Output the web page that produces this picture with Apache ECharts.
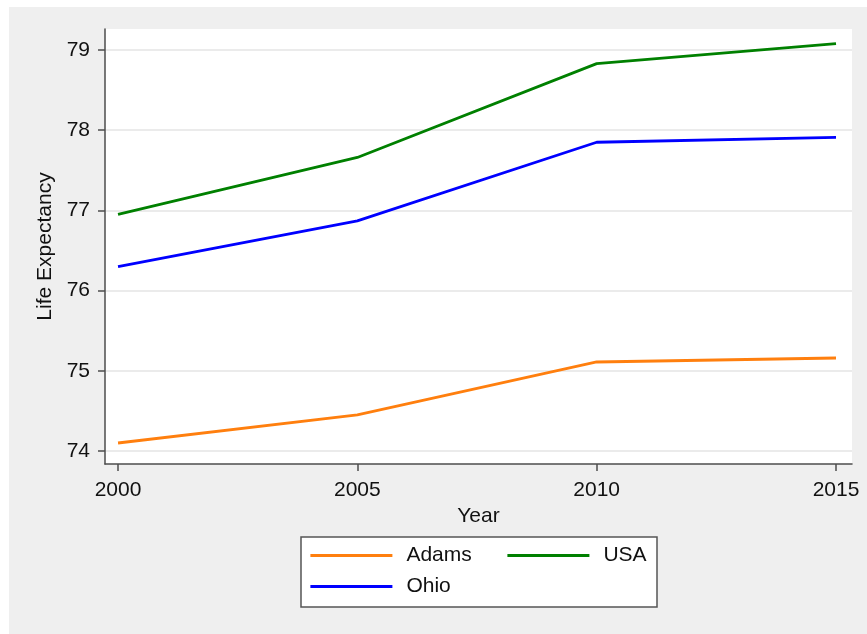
<!DOCTYPE html>
<html>
<head>
<meta charset="utf-8">
<script src="https://cdn.jsdelivr.net/npm/echarts@6/dist/echarts.min.js"></script>
<style>
html,body{margin:0;padding:0;background:#fff;}
#main{width:867px;height:634px;}
</style>
</head>
<body>
<div id="main"></div>
<script>
const years = [2000, 2005, 2010, 2015];
const adams = [74.10, 74.45, 75.11, 75.16];
const usa = [76.95, 77.66, 78.83, 79.08];
const ohio = [76.30, 76.87, 77.85, 77.91];
const yTicks = [74, 75, 76, 77, 78, 79];
const xTicks = [2000, 2005, 2010, 2015];

const pairs = vals => years.map((y, i) => [y, vals[i]]);
const font = '"Liberation Sans", Arial, sans-serif';
const axisColor = '#4d4d4d';
const legendCommon = {
  orient: 'vertical', top: 545, z: 10,
  itemWidth: 82, itemHeight: 21, itemGap: 10, padding: 0,
  itemStyle: {opacity: 0},
  lineStyle: {width: 2.8},
  textStyle: {fontFamily: font, fontSize: 21, color: '#111', padding: [0, 0, 0, 9]}
};

const chart = echarts.init(document.getElementById('main'), null, {renderer: 'canvas'});
chart.setOption({
  animation: false,
  backgroundColor: 'transparent',
  graphic: [
    {type: 'rect', z: -10, silent: true, shape: {x: 9, y: 7, width: 858, height: 627}, style: {fill: '#efefef'}},
    {type: 'rect', z: 5, silent: true, shape: {x: 301, y: 537, width: 356, height: 70}, style: {fill: '#fff', stroke: '#555', lineWidth: 1.5}}
  ],
  grid: {left: 105, right: 15, top: 29, bottom: 170, show: true, backgroundColor: '#fff', borderWidth: 0},
  xAxis: {
    type: 'value', min: 1999.728, max: 2015.334,
    name: 'Year', nameLocation: 'middle', nameGap: 36,
    nameTextStyle: {fontFamily: font, fontSize: 21, color: '#111'},
    axisLine: {show: true, lineStyle: {color: axisColor, width: 1.5}},
    axisTick: {show: true, length: 7, customValues: xTicks, lineStyle: {color: axisColor, width: 1.5}},
    axisLabel: {customValues: xTicks, margin: 16, fontFamily: font, fontSize: 21, color: '#111',
      formatter: v => String(Math.round(v))},
    splitLine: {show: false}
  },
  yAxis: {
    type: 'value', min: 73.838, max: 79.262,
    name: 'Life Expectancy', nameLocation: 'middle', nameGap: 44,
    nameTextStyle: {fontFamily: font, fontSize: 21, color: '#111'},
    axisLine: {show: true, lineStyle: {color: axisColor, width: 1.5}},
    axisTick: {show: true, length: 7, customValues: yTicks, lineStyle: {color: axisColor, width: 1.5}},
    axisLabel: {customValues: yTicks, margin: 15, fontFamily: font, fontSize: 21, color: '#111',
      formatter: v => String(Math.round(v))},
    splitLine: {show: true, lineStyle: {color: '#ebebeb', width: 2}}
  },
  legend: [
    Object.assign({data: ['Adams', 'Ohio'], left: 309}, legendCommon),
    Object.assign({data: ['USA'], left: 506}, legendCommon)
  ],
  series: [
    {name: 'Adams', type: 'line', data: pairs(adams), symbol: 'none', lineStyle: {color: '#ff7f0e', width: 2.8}, itemStyle: {color: '#ff7f0e'}},
    {name: 'USA', type: 'line', data: pairs(usa), symbol: 'none', lineStyle: {color: '#008000', width: 2.8}, itemStyle: {color: '#008000'}},
    {name: 'Ohio', type: 'line', data: pairs(ohio), symbol: 'none', lineStyle: {color: '#0000ff', width: 2.8}, itemStyle: {color: '#0000ff'}}
  ]
});
</script>
</body>
</html>
